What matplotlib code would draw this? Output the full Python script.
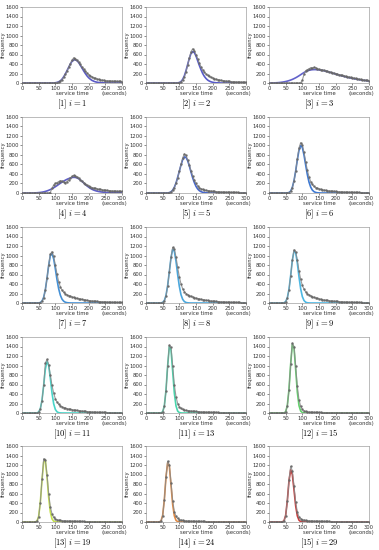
import numpy as np
import matplotlib
matplotlib.use("Agg")
import matplotlib.pyplot as plt

plt.rcParams['mathtext.fontset'] = 'cm'

# x grid of histogram bins (seconds)
X_GRID = list(range(0, 305, 5))

LABELS = [r"$[1]\ i=1$", r"$[2]\ i=2$", r"$[3]\ i=3$", r"$[4]\ i=4$", r"$[5]\ i=5$",
          r"$[6]\ i=6$", r"$[7]\ i=7$", r"$[8]\ i=8$", r"$[9]\ i=9$", r"$[10]\ i=11$",
          r"$[11]\ i=13$", r"$[12]\ i=15$", r"$[13]\ i=19$", r"$[14]\ i=24$", r"$[15]\ i=29$"]

FIT_COLORS = ["#5252c2", "#4f52c6", "#5a5ac8", "#5656c4", "#3f60c8",
              "#3472cf", "#3a8ad3", "#41a2da", "#43b4e2", "#3fd2c6",
              "#3fd3a8", "#5ccf66", "#c2e044", "#e0843a", "#c43434"]

# observed frequencies: (first x, values every 5 s)
OBS_START = [100, 95, 95, 85, 65, 55, 50, 45, 45, 45, 45, 45, 40, 40, 40]
OBS_1 = [5, 10, 20, 40, 70, 120, 180, 250, 330, 410, 480, 530, 510, 480, 440, 390, 340, 290, 250, 210,
         175, 150, 130, 110, 95, 85, 75, 68, 60, 55, 50, 48, 45, 42, 40, 38, 36, 35, 33, 32, 30]
OBS_2 = [3, 8, 25, 60, 130, 240, 380, 530, 660, 720, 680, 600, 510, 420, 340, 280, 230, 190, 160, 140,
         120, 105, 92, 80, 70, 62, 55, 50, 45, 40, 37, 34, 31, 28, 26, 24, 22, 21, 20, 19, 18, 17]
OBS_3 = [5, 60, 180, 260, 280, 300, 320, 310, 330, 320, 300, 290, 280, 270, 265, 255, 245, 235, 225, 215,
         205, 195, 185, 175, 168, 160, 150, 142, 135, 125, 118, 110, 102, 95, 88, 80, 74, 68, 62, 58, 54, 50]
OBS_4 = [10, 100, 170, 200, 220, 240, 260, 250, 230, 210, 240, 280, 320, 350, 370, 360, 340, 310, 280, 250,
         220, 190, 165, 145, 128, 115, 105, 95, 88, 80, 74, 68, 63, 58, 54, 50, 47, 44, 42, 40, 38, 36, 34, 32]
OBS_5 = [2, 8, 22, 55, 115, 200, 320, 460, 600, 740, 820, 790, 700, 590, 470, 360, 270, 200, 150, 115,
         90, 75, 65, 57, 50, 45, 40, 36, 33, 30, 28, 25, 23, 21, 19, 18, 17, 16, 15, 14, 13, 12, 11, 10, 10, 9, 9, 8]
OBS_6 = [2, 8, 35, 110, 250, 460, 720, 950, 1060, 1010, 860, 660, 480, 340, 240, 180, 140, 115, 100, 88,
         78, 70, 62, 56, 50, 46, 42, 38, 35, 32, 30, 27, 25, 23, 21, 20, 18, 17, 16, 15, 14, 13, 12, 11, 10, 10, 9, 9, 8, 8]
OBS_7 = [2, 8, 35, 110, 270, 520, 800, 1030, 1080, 980, 800, 610, 450, 340, 270, 225, 195, 172, 155, 140,
         128, 117, 107, 98, 90, 82, 75, 68, 62, 56, 51, 47, 43, 40, 37, 34, 31, 29, 27, 25, 23, 21, 20, 18, 17, 16, 15, 14, 13, 12, 12]
OBS_8 = [2, 10, 45, 150, 360, 660, 960, 1170, 1140, 970, 750, 550, 400, 300, 240, 200, 175, 155, 140, 126,
         114, 103, 94, 85, 77, 70, 64, 58, 53, 48, 44, 40, 37, 34, 31, 28, 26, 24, 22, 20, 19, 17, 16, 15, 14, 13, 12, 11, 10, 10, 9, 9]
OBS_9 = [4, 25, 100, 280, 570, 900, 1120, 1080, 900, 680, 500, 370, 290, 235, 198, 170, 150, 133, 119, 107,
         96, 87, 79, 72, 65, 59, 54, 49, 45, 41, 38, 35, 32, 29, 27, 25, 23, 21, 19, 18, 17, 16, 15, 14, 13, 12, 11, 10, 10, 9, 9, 8]
OBS_10 = [3, 18, 85, 260, 580, 1050, 1130, 1020, 800, 580, 420, 300, 230, 185, 155, 132, 115, 102, 92, 84,
          77, 70, 64, 58, 53, 48, 44, 40, 37, 34, 31, 28, 25, 22, 20, 18, 16, 15, 14, 13, 12, 11, 10, 9, 9, 8, 8, 7, 7, 6, 6, 6]
OBS_11 = [2, 20, 140, 470, 1000, 1430, 1380, 1000, 600, 340, 200, 130, 95, 75, 62, 55, 50, 46, 42, 38,
          35, 32, 29, 26, 24, 22, 20, 18, 17, 16, 15, 14, 13, 12, 11, 10, 10, 9, 9, 8, 8, 7, 7, 6, 6, 6, 5, 5, 5, 5, 5, 5]
OBS_12 = [2, 22, 150, 490, 1040, 1470, 1400, 980, 560, 280, 140, 75, 45, 32, 25, 21, 18, 16, 14, 13,
          12, 11, 11, 10, 10, 9, 9, 9, 8, 8, 8, 7, 7, 7, 6, 6, 6, 6, 5, 5, 5, 5, 5, 4, 4, 4, 4, 4, 4, 4, 4, 4]
OBS_13 = [2, 18, 110, 410, 900, 1330, 1300, 1000, 600, 320, 170, 100, 65, 48, 38, 32, 28, 25, 23, 21,
          19, 18, 17, 16, 15, 14, 13, 12, 12, 11, 10, 10, 9, 9, 8, 8, 8, 7, 7, 7, 6, 6, 6, 6, 5, 5, 5, 5, 5, 5, 5, 5, 5]
OBS_14 = [2, 20, 130, 460, 950, 1280, 1200, 830, 450, 220, 120, 75, 52, 40, 33, 28, 25, 22, 20, 18,
          17, 16, 15, 14, 13, 12, 11, 11, 10, 10, 9, 9, 8, 8, 8, 7, 7, 7, 6, 6, 6, 6, 5, 5, 5, 5, 5, 5, 5, 5, 4, 4, 4]
OBS_15 = [3, 22, 130, 440, 880, 1170, 1080, 760, 420, 210, 110, 70, 50, 40, 33, 29, 26, 23, 21, 19,
          18, 17, 16, 15, 14, 13, 12, 12, 11, 10, 10, 9, 9, 8, 8, 8, 7, 7, 7, 6, 6, 6, 6, 5, 5, 5, 5, 5, 5, 5, 5, 5, 5]

# fitted distributions: (first x, values every 5 s)
FIT_START = [100, 95, 10, 35, 65, 55, 50, 45, 45, 45, 45, 45, 40, 40, 40]
FIT_1 = [5, 12, 25, 45, 80, 130, 190, 260, 330, 400, 455, 485, 490, 470, 430, 375, 315, 255, 200, 150,
         110, 80, 55, 38, 25, 17, 11, 7, 5, 3, 2]
FIT_2 = [3, 10, 30, 75, 150, 260, 390, 520, 620, 660, 640, 570, 470, 370, 280, 200, 140, 95, 62, 40,
         25, 15, 9, 5, 3, 2]
FIT_3 = [1, 2, 4, 6, 9, 13, 18, 24, 31, 40, 50, 62, 76, 92, 110, 130, 152, 175, 198, 220,
         240, 255, 267, 275, 280, 282, 282, 280, 276, 272, 266, 258, 250, 241, 231, 221, 210, 199, 188, 178,
         168, 158, 148, 139, 130, 121, 113, 105, 98, 91, 84, 78, 72, 66, 61, 56, 51, 47, 43]
FIT_4 = [1, 3, 5, 8, 12, 17, 24, 33, 44, 57, 72, 90, 110, 132, 155, 180, 205, 228, 250, 270,
         288, 303, 316, 325, 330, 328, 318, 300, 275, 245, 212, 180, 150, 122, 98, 78, 62, 49, 39, 31,
         25, 20, 17, 14, 12, 10, 9, 8, 7, 6, 5, 5, 4, 4]
FIT_5 = [2, 8, 25, 60, 120, 210, 330, 460, 590, 700, 760, 750, 680, 570, 440, 320, 220, 140, 85, 50,
         28, 15, 8, 4, 2]
FIT_6 = [2, 10, 40, 120, 260, 460, 700, 900, 1000, 960, 800, 590, 390, 230, 125, 62, 28, 12, 5, 2]
FIT_7 = [2, 10, 40, 120, 280, 520, 790, 1000, 1040, 930, 720, 490, 300, 165, 82, 38, 16, 7, 3, 1]
FIT_8 = [2, 12, 50, 160, 370, 660, 950, 1130, 1090, 880, 600, 350, 175, 78, 30, 11, 4, 1]
FIT_9 = [5, 30, 110, 290, 580, 900, 1090, 1060, 840, 550, 300, 135, 52, 17, 5, 1]
FIT_10 = [3, 20, 90, 270, 580, 920, 1090, 1000, 730, 420, 195, 75, 25, 7, 2]
FIT_11 = [2, 25, 150, 480, 1000, 1400, 1330, 880, 420, 150, 40, 9, 2]
FIT_12 = [2, 25, 160, 500, 1030, 1450, 1380, 920, 440, 155, 42, 9, 2]
FIT_13 = [2, 20, 120, 420, 880, 1260, 1300, 960, 520, 210, 65, 16, 3]
FIT_14 = [2, 22, 140, 470, 950, 1250, 1180, 780, 370, 130, 35, 7, 1]
FIT_15 = [3, 25, 140, 450, 870, 1100, 1000, 680, 340, 130, 38, 9, 2]

OBS = [OBS_1, OBS_2, OBS_3, OBS_4, OBS_5, OBS_6, OBS_7, OBS_8, OBS_9, OBS_10,
       OBS_11, OBS_12, OBS_13, OBS_14, OBS_15]
FITS = [FIT_1, FIT_2, FIT_3, FIT_4, FIT_5, FIT_6, FIT_7, FIT_8, FIT_9, FIT_10,
        FIT_11, FIT_12, FIT_13, FIT_14, FIT_15]

X_TICKS = [0, 50, 100, 150, 200, 250, 300]
Y_TICKS = [0, 200, 400, 600, 800, 1000, 1200, 1400, 1600]


def full_series(start, vals):
    x = np.array(X_GRID, dtype=float)
    y = np.zeros_like(x)
    i0 = X_GRID.index(start)
    n = min(len(vals), len(X_GRID) - i0)
    y[i0:i0 + n] = vals[:n]
    return x, y


W, H = 379, 550
fig = plt.figure(figsize=(W / 100, H / 100), dpi=100)
lefts = [22, 146, 269]
tops = [7, 117, 227, 337, 446]
aw, ah = 100, 76

for k in range(15):
    r, c = divmod(k, 3)
    ax = fig.add_axes([lefts[c] / W, 1 - (tops[r] + ah) / H, aw / W, ah / H])
    xo, yo = full_series(OBS_START[k], OBS[k])
    xf, yf = full_series(FIT_START[k], FITS[k])
    ax.plot(xf, yf, color=FIT_COLORS[k], lw=1.2, zorder=2, alpha=0.95)
    ax.plot(xo, yo, color="#8a8a8a", lw=0.8, marker='.', ms=1.6, mec="#666666",
            mfc="#777777", zorder=3, alpha=0.85)
    ax.set_xlim(0, 300)
    ax.set_ylim(0, 1600)
    ax.set_xticks(X_TICKS)
    ax.set_yticks(Y_TICKS)
    ax.tick_params(labelsize=3.8, length=1.5, width=0.4, pad=1, colors="#333333")
    for sp in ax.spines.values():
        sp.set_linewidth(0.4)
        sp.set_color("#888888")
    ax.text(0.5, -0.135, "service time", transform=ax.transAxes, ha='center',
            va='center', fontsize=3.8, color="#333333")
    ax.text(0.92, -0.135, "(seconds)", transform=ax.transAxes, ha='center',
            va='center', fontsize=3.8, color="#333333")
    ax.set_ylabel("frequency", fontsize=3.8, color="#333333")
    ax.yaxis.set_label_coords(-0.165, 0.5)
    ax.text(0.5, -0.19, LABELS[k], transform=ax.transAxes, ha='center',
            va='top', fontsize=6.2)

fig.savefig("out.png", dpi=100)
